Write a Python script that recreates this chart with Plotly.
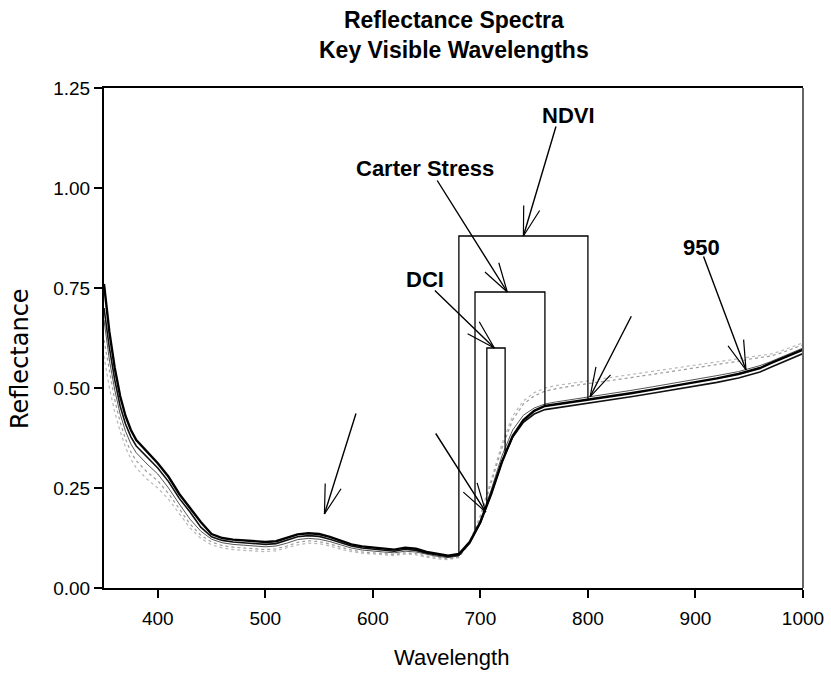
import numpy as np
import plotly.graph_objects as go

# ---------------- data ----------------
wavelength = [350, 355, 360, 365, 370, 375, 380, 390, 400, 410, 420, 430, 440, 450, 460, 470,
              480, 490, 500, 510, 520, 530, 540, 550, 560, 570, 580, 590, 600, 610, 620, 630,
              640, 650, 660, 670, 680, 690, 700, 710, 720, 730, 740, 750, 760, 770, 780, 790,
              800, 820, 840, 860, 880, 900, 920, 940, 950, 960, 970, 980, 990, 1000]

spec_a = [.760, .640, .550, .480, .430, .395, .370, .340, .312, .278, .235, .200, .165, .135, .125, .121,
          .119, .117, .115, .117, .125, .134, .137, .135, .128, .118, .109, .104, .101, .099, .096, .101,
          .098, .090, .085, .081, .085, .115, .165, .235, .315, .380, .420, .443, .455, .459, .462, .466,
          .470, .478, .487, .496, .505, .514, .524, .535, .542, .550, .562, .574, .585, .596]

spec_b = [.700, .600, .520, .455, .410, .378, .355, .328, .300, .266, .224, .190, .152, .128, .119, .115,
          .113, .111, .109, .111, .119, .128, .131, .129, .122, .113, .105, .100, .097, .095, .092, .097,
          .094, .087, .082, .078, .082, .112, .163, .235, .315, .377, .414, .435, .446, .450, .453, .457,
          .461, .469, .478, .487, .496, .505, .514, .525, .532, .540, .552, .564, .575, .586]

spec_c = [.670, .570, .495, .435, .392, .360, .338, .310, .285, .250, .210, .172, .142, .122, .113, .109,
          .107, .105, .103, .105, .112, .121, .124, .122, .116, .108, .100, .095, .092, .090, .088, .092,
          .090, .084, .079, .076, .080, .112, .168, .245, .330, .395, .432, .450, .460, .465, .469, .473,
          .477, .485, .494, .503, .512, .521, .531, .541, .548, .556, .566, .577, .588, .600]

spec_d = [.620, .540, .470, .415, .372, .340, .318, .290, .268, .236, .198, .160, .132, .115, .106, .102,
          .100, .098, .096, .098, .105, .114, .118, .116, .110, .102, .095, .090, .088, .086, .084, .088,
          .086, .080, .076, .073, .078, .112, .175, .260, .350, .420, .460, .480, .492, .498, .503, .507,
          .511, .518, .526, .534, .542, .550, .558, .567, .572, .576, .580, .588, .598, .608]

spec_e = [.580, .500, .440, .392, .352, .322, .300, .272, .250, .222, .186, .150, .124, .108, .100, .096,
          .094, .092, .091, .093, .100, .108, .112, .111, .105, .097, .091, .087, .085, .083, .081, .085,
          .083, .077, .073, .071, .076, .115, .182, .270, .360, .430, .468, .488, .500, .506, .510, .514,
          .518, .525, .533, .541, .549, .557, .565, .573, .577, .581, .585, .593, .603, .613]

# spectral indices: band wavelengths and height of the bracket
index_names = ["NDVI", "Carter Stress", "DCI"]
index_lo = [680, 695, 706]
index_hi = [800, 760, 723]
index_top = [0.88, 0.74, 0.60]

x_ticks = [400, 500, 600, 700, 800, 900, 1000]
y_ticks = [0.00, 0.25, 0.50, 0.75, 1.00, 1.25]

# ---------------- figure ----------------
fig = go.Figure()

styles = [
    (spec_e, dict(color="#b8b8b8", width=1.2, dash="dot")),
    (spec_d, dict(color="#9a9a9a", width=1.2, dash="dot")),
    (spec_c, dict(color="#555555", width=1.0)),
    (spec_b, dict(color="#111111", width=1.6)),
    (spec_a, dict(color="#000000", width=2.4)),
]
for ys, ln in styles:
    fig.add_trace(go.Scatter(x=wavelength, y=ys, mode="lines", line=ln,
                             showlegend=False, hoverinfo="skip"))

# index brackets, feet standing on the main spectrum
for lo, hi, top in zip(index_lo, index_hi, index_top):
    y_lo = float(np.interp(lo, wavelength, spec_a))
    y_hi = float(np.interp(hi, wavelength, spec_a))
    fig.add_trace(go.Scatter(x=[lo, lo, hi, hi], y=[y_lo, top, top, y_hi], mode="lines",
                             line=dict(color="black", width=1.3),
                             showlegend=False, hoverinfo="skip"))

BASE = "Arial, Liberation Sans, sans-serif"
ann = []

# labels (data positions)
labels = [("NDVI", 781.5, 1.1825), ("Carter Stress", 648.5, 1.05),
          ("DCI", 648.5, 0.7725), ("950", 906, 0.8525)]
for t, x, y in labels:
    ann.append(dict(x=x, y=y, xref="x", yref="y", text="<b>%s</b>" % t, showarrow=False,
                    font=dict(family=BASE, size=22, color="black"),
                    xanchor="center", yanchor="middle"))

# arrows: tip in data coords, tail offset in pixels
arrows = [
    (740, 0.88, 33, -111),
    (725, 0.74, -71, -113),
    (713, 0.60, -61, -59),
    (947, 0.545, -43, -115),
    (802, 0.478, 42, -82),
    (555, 0.185, 32, -102),
    (705, 0.19, -51, -80),
]
barb_len = 32
barb_ang = np.deg2rad(16)
for x, y, ax, ay in arrows:
    ann.append(dict(x=x, y=y, xref="x", yref="y", ax=ax, ay=ay, text="", showarrow=True,
                    arrowhead=0, arrowwidth=1.4, arrowcolor="black"))
    u = np.array([ax, ay], dtype=float)
    u /= np.linalg.norm(u)
    for s in (1, -1):
        c, sn = np.cos(s * barb_ang), np.sin(s * barb_ang)
        bx = (c * u[0] - sn * u[1]) * barb_len
        by = (sn * u[0] + c * u[1]) * barb_len
        ann.append(dict(x=x, y=y, xref="x", yref="y", ax=float(bx), ay=float(by), text="",
                        showarrow=True, arrowhead=0, arrowwidth=1.2, arrowcolor="black"))

# title
ann.append(dict(x=0.5, y=1.106, xref="paper", yref="paper",
                text="<b>Reflectance Spectra</b><br><b>Key Visible Wavelengths</b>",
                showarrow=False, font=dict(family=BASE, size=23, color="black"),
                xanchor="center", yanchor="middle", align="center"))
# axis titles
ann.append(dict(x=0.497, y=-0.138, xref="paper", yref="paper", text="Wavelength",
                showarrow=False, font=dict(family=BASE, size=22, color="black"),
                xanchor="center", yanchor="middle"))
ann.append(dict(x=-0.12, y=0.458, xref="paper", yref="paper", text="Reflectance",
                showarrow=False, textangle=-90,
                font=dict(family="DejaVu Sans, sans-serif", size=24, color="black"),
                xanchor="center", yanchor="middle"))

fig.update_layout(
    width=831, height=674, autosize=False,
    margin=dict(l=104, r=28, t=88, b=86, autoexpand=False),
    paper_bgcolor="white", plot_bgcolor="white",
    font=dict(family=BASE, color="black"),
    annotations=ann,
    shapes=[dict(type="line", xref="paper", yref="paper", x0=1, x1=1, y0=0, y1=1,
                 line=dict(color="#666666", width=2))],
    xaxis=dict(range=[350, 1000], tickvals=x_ticks, ticks="outside", ticklen=8, tickwidth=1.5,
               tickcolor="black", showline=True, linewidth=2, linecolor="black", mirror=True,
               showgrid=False, zeroline=False, ticklabelstandoff=4, automargin=False,
               tickfont=dict(size=19, family=BASE)),
    yaxis=dict(range=[0, 1.25], tickvals=y_ticks, tickformat=".2f", ticks="outside", ticklen=8,
               tickwidth=1.5, tickcolor="black", showline=True, linewidth=2, linecolor="black",
               showgrid=False, zeroline=False, automargin=False,
               tickfont=dict(size=19, family=BASE)),
)

fig.write_html("out.html")
